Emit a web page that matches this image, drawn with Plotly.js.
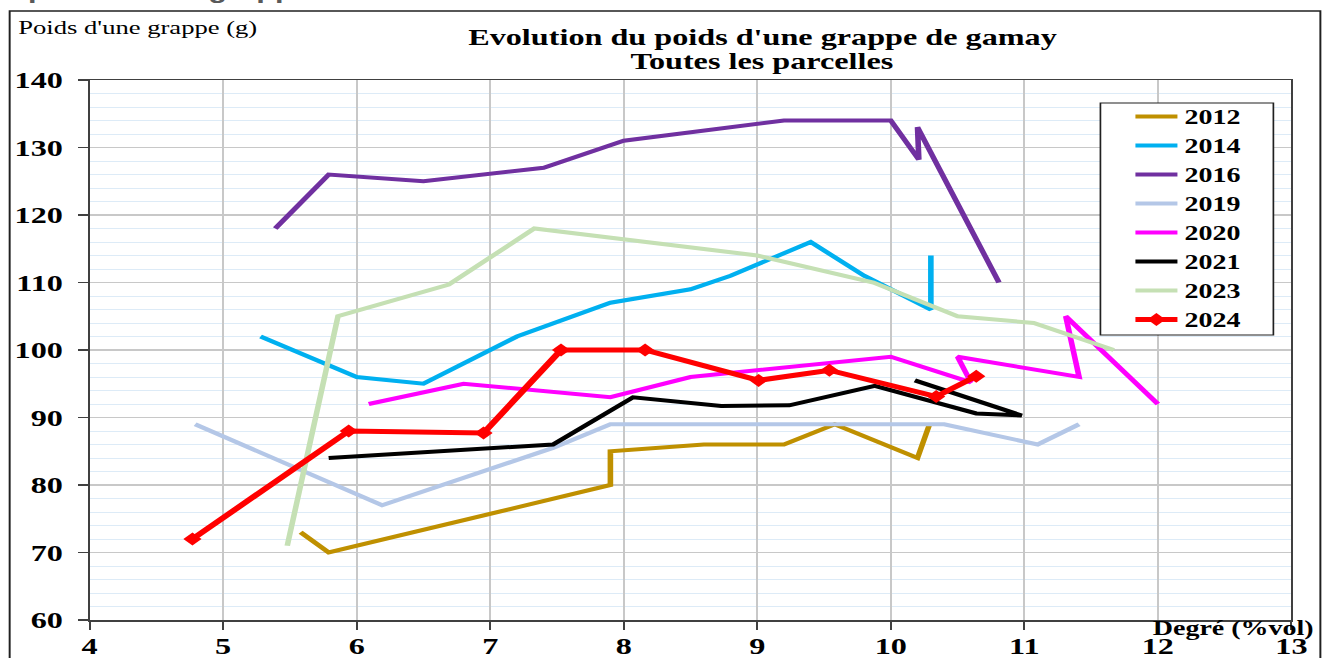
<!DOCTYPE html>
<html>
<head>
<meta charset="utf-8">
<script src="https://cdn.plot.ly/plotly-3.0.1.min.js"></script>
<style>
  html, body { margin: 0; padding: 0; background: #ffffff; overflow: hidden; }
  #wrap { width: 1325px; height: 658px; overflow: hidden; }
  #chart { width: 946px; height: 658px; transform-origin: 0 0; }
</style>
</head>
<body>
<div id="wrap"><div id="chart"></div></div>
<script>
// ---- data ----
const years = ['2012', '2014', '2016', '2019', '2020', '2021', '2023', '2024'];

const x2012 = [5.58, 5.79, 7.9, 7.9, 8.6, 9.2, 9.58, 10.2, 10.29];
const y2012 = [73, 70, 80, 85, 86, 86, 89, 84, 89];

const x2014 = [5.28, 6.0, 6.5, 7.2, 7.9, 8.5, 8.8, 9.4, 9.8, 10.3, 10.3];
const y2014 = [102, 96, 95, 102, 107, 109, 111, 116, 111, 106, 114];

const x2016 = [5.39, 5.79, 6.5, 7.4, 8.0, 9.2, 10.0, 10.21, 10.2, 10.81];
const y2016 = [118, 126, 125, 127, 131, 134, 134, 128.2, 133, 110];

const x2019 = [4.79, 6.19, 7.47, 7.9, 10.4, 11.1, 11.41];
const y2019 = [89, 77, 85.5, 89, 89, 86, 89];

const x2020 = [6.09, 6.8, 7.9, 8.5, 10.0, 10.6, 10.5, 11.41, 11.31, 12.0];
const y2020 = [92, 95, 93, 96, 99, 95.2, 99, 96, 105, 92];

const x2021 = [5.79, 7.47, 8.07, 8.73, 9.24, 9.88, 10.64, 10.98, 10.18];
const y2021 = [84, 86, 93, 91.7, 91.8, 94.7, 90.6, 90.3, 95.5];

const x2023 = [5.48, 5.86, 6.69, 7.33, 9.0, 9.87, 10.5, 11.07, 11.67];
const y2023 = [71, 105, 109.7, 118, 114, 110, 105, 104, 100];

const x2024 = [4.77, 5.94, 6.95, 7.53, 8.16, 9.01, 9.54, 10.34, 10.64];
const y2024 = [72, 88, 87.7, 100, 100, 95.5, 97, 93.1, 96.1];

const xs = [x2012, x2014, x2016, x2019, x2020, x2021, x2023, x2024];
const ys = [y2012, y2014, y2016, y2019, y2020, y2021, y2023, y2024];
const colors = ['#BF9000', '#00B0F0', '#7030A0', '#B4C7E7', '#FF00FF', '#000000', '#C5E0B4', '#FF0000'];

const xTickVals = [4, 5, 6, 7, 8, 9, 10, 11, 12, 13];
const yTickVals = [60, 70, 80, 90, 100, 110, 120, 130, 140];

const titleLine1 = "Evolution du poids d'une grappe de gamay";
const titleLine2 = "Toutes les parcelles";
const yTitleText = "Poids d'une grappe (g)";
const xTitleText = "Degré (%vol)";
const headText = "poids d'une grappe";

// ---- geometry (the reference is horizontally stretched) ----
const W = 946, H = 658;
const S = 1325 / W;
document.getElementById('chart').style.transform = 'scaleX(' + S + ')';

const L = 89 / S, R = (1325 - 1291) / S, T = 80, B = 38;
const PW = W - L - R, PH = H - T - B;
const px2paperX = p => (p / S - L) / PW;
const px2paperY = p => (H - B - p) / PH;

const serif = 'Liberation Serif, Times New Roman, serif';

const traces = years.map((yr, i) => {
  const isLast = yr === '2024';
  const tr = {
    type: 'scatter',
    mode: isLast ? 'lines+markers' : 'lines',
    name: yr,
    legendgroup: yr,
    x: xs[i],
    y: ys[i],
    line: { color: colors[i], width: isLast ? 5 : 4 },
    hoverinfo: 'skip'
  };
  if (isLast) tr.marker = { symbol: 'diamond', size: 10, color: colors[i] };
  return tr;
});

const layout = {
  width: W,
  height: H,
  margin: { l: L, r: R, t: T, b: B, pad: 0 },
  paper_bgcolor: '#ffffff',
  plot_bgcolor: '#ffffff',
  showlegend: true,
  title: {
    text: titleLine1,
    x: px2paperX(762), xref: 'paper', xanchor: 'center',
    y: 1 - 37 / H, yref: 'container', yanchor: 'middle',
    font: { family: serif, size: 23, color: '#000', weight: 'bold' }
  },
  xaxis: {
    range: [4, 13],
    tickvals: xTickVals,
    showgrid: true, gridcolor: '#C8C8C8', gridwidth: 1.2,
    zeroline: false,
    showline: true, linecolor: '#404040', linewidth: 1.5, mirror: true,
    ticks: 'outside', ticklen: 8, tickwidth: 1.5, tickcolor: '#404040',
    ticklabelstandoff: -3,
    tickfont: { family: serif, size: 23, color: '#000', weight: 'bold' }
  },
  xaxis2: {
    overlaying: 'x', anchor: 'y', side: 'bottom',
    range: [4, 13], tickvals: xTickVals,
    showgrid: false, zeroline: false, showline: false,
    ticks: 'inside', ticklen: 7, tickwidth: 1.5, tickcolor: '#404040',
    showticklabels: false
  },
  yaxis: {
    range: [60, 140],
    tickvals: yTickVals,
    showgrid: true, gridcolor: '#C8C8C8', gridwidth: 1.3,
    minor: { dtick: 2, tick0: 60, showgrid: true, gridcolor: '#DDEBF7', gridwidth: 1 },
    zeroline: false,
    showline: true, linecolor: '#404040', linewidth: 1.5, mirror: true,
    ticks: 'outside', ticklen: 7, tickwidth: 1.5, tickcolor: '#404040',
    ticklabelstandoff: 6,
    tickfont: { family: serif, size: 23, color: '#000', weight: 'bold' }
  },
  legend: {
    x: px2paperX(1128), xanchor: 'left',
    y: px2paperY(97), yanchor: 'top',
    bgcolor: 'rgba(0,0,0,0)', borderwidth: 0,
    traceorder: 'grouped', tracegroupgap: 0,
    font: { family: serif, size: 20, color: '#000', weight: 'bold' }
  },
  shapes: [
    { type: 'rect', xref: 'paper', yref: 'paper', layer: 'above',
      x0: px2paperX(1100), x1: px2paperX(1273), y0: px2paperY(335), y1: px2paperY(103),
      line: { color: '#202020', width: 1.2 }, fillcolor: '#ffffff' },
    { type: 'rect', xref: 'paper', yref: 'paper', layer: 'below',
      x0: px2paperX(9), x1: px2paperX(1320), y0: px2paperY(700), y1: px2paperY(11),
      line: { color: '#202020', width: 1.4 }, fillcolor: 'rgba(0,0,0,0)' }
  ],
  annotations: [
    { text: titleLine2, showarrow: false, xref: 'paper', yref: 'paper',
      x: px2paperX(762), xanchor: 'center', y: px2paperY(62), yanchor: 'middle',
      font: { family: serif, size: 23, color: '#000', weight: 'bold' } },
    { text: yTitleText, showarrow: false, xref: 'paper', yref: 'paper',
      x: px2paperX(15), xanchor: 'left', y: px2paperY(28), yanchor: 'middle',
      font: { family: serif, size: 19, color: '#000' } },
    { text: xTitleText, showarrow: false, xref: 'paper', yref: 'paper',
      x: px2paperX(1316), xanchor: 'right', y: px2paperY(628), yanchor: 'middle',
      font: { family: serif, size: 20, color: '#000', weight: 'bold' } },
    { text: headText, showarrow: false, xref: 'paper', yref: 'paper',
      x: px2paperX(24), xanchor: 'left', y: px2paperY(5), yanchor: 'bottom',
      font: { family: 'Liberation Sans, Arial, sans-serif', size: 22, color: '#595959', weight: 'bold' } }
  ]
};

Plotly.newPlot('chart', traces, layout, { displayModeBar: false, staticPlot: true });
</script>
</body>
</html>
